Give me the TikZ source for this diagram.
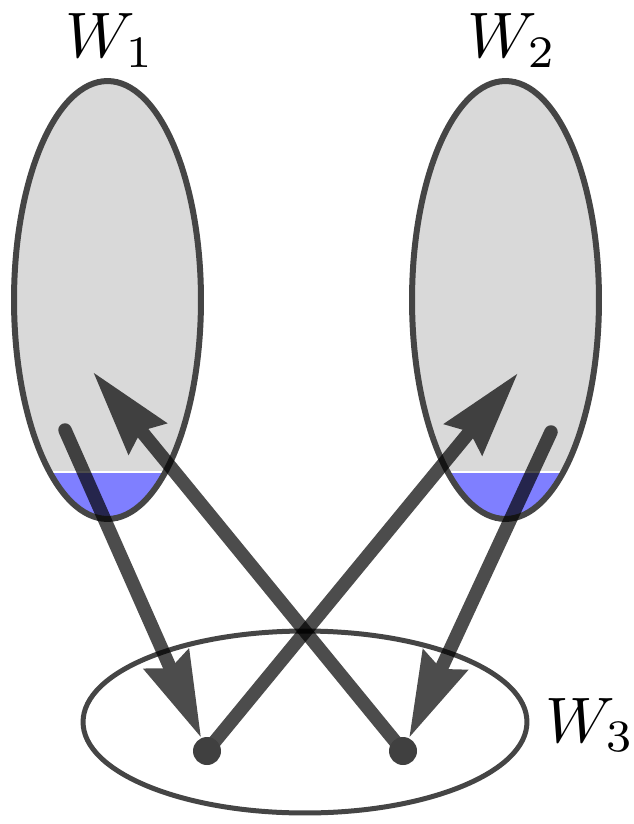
\documentclass[tikz,border=0pt]{standalone}
\usetikzlibrary{positioning,calc,arrows.meta,shapes.geometric}
\pgfdeclarelayer{front}
\pgfsetlayers{main,front}

\begin{document}
\begin{tikzpicture}[x=0.02cm, y=-0.02cm]
       \definecolor{rim}{HTML}{454545}
       \definecolor{grayfill}{HTML}{D9D9D9}
       \definecolor{water}{HTML}{7F7FFF}
       \newcommand{\drawpool}[1]{
         \begin{scope}
           \clip (#1) ellipse [x radius=1.87cm, y radius=4.38cm];
           \fill [grayfill] ($(#1)+(-100,-230)$) rectangle ($(#1)+(100,172)$);
           \fill [water]    ($(#1)+(-100,172)$)  rectangle ($(#1)+(100,230)$);
           \draw [white, line width=0.8pt] ($(#1)+(-100,172)$) -- ($(#1)+(100,172)$);
         \end{scope}
       }
       \newcommand{\link}[2]{
         \begin{scope}[transparency group, opacity=0.7]
           \draw [connector] (#1) -- (#2);
         \end{scope}
       }
       \tikzstyle{world}     = [ellipse, draw = rim, line width=0.12cm, minimum width=3.74cm, minimum height=8.76cm, inner sep=0pt]
       \tikzstyle{bigworld}  = [ellipse, draw = rim, line width=0.1cm, minimum width=8.88cm, minimum height=3.64cm, inner sep=0pt]
       \tikzstyle{worldname} = [anchor=base, scale=3.66, inner sep=0pt]
       \tikzstyle{dot}       = [circle, fill = black!75, minimum size=0.56cm, inner sep=0pt]
       \tikzstyle{connector} = [line width=0.27cm, line cap=round, draw = black,
                                -{Stealth[length=1.7cm, width=0.95cm, inset=0.18cm]}]

       \useasboundingbox (0,0) rectangle (634,824);

       % the two upper worlds, partly filled
       \coordinate (c1) at (107.5,300);
       \coordinate (c2) at (505.5,300);
       \drawpool{c1}
       \drawpool{c2}
       \node [world] (w1) at (c1) {};
       \node [world] (w2) at (c2) {};
       \node [bigworld] (w3) at (305,722) {};

       \node [worldname] (w1label) at (110,58)  {$W_1$};
       \node [worldname] (w2label) at (512,58)  {$W_2$};
       \node [worldname] (w3label) at (590,742) {$W_3$};

       % points of the lower world, kept in front of the arrows
       \begin{pgfonlayer}{front}
         \node [dot] (p1) at (207,751) {};
         \node [dot] (p2) at (403,751) {};
       \end{pgfonlayer}
       \coordinate (s1) at (65,430);
       \coordinate (s2) at (551,432);
       \coordinate (t1) at (93,372);
       \coordinate (t2) at (518,373);

       \link{s1}{p1}
       \link{p2.center}{t1}
       \link{p1.center}{t2}
       \link{s2}{p2}
     \end{tikzpicture}
\end{document}
